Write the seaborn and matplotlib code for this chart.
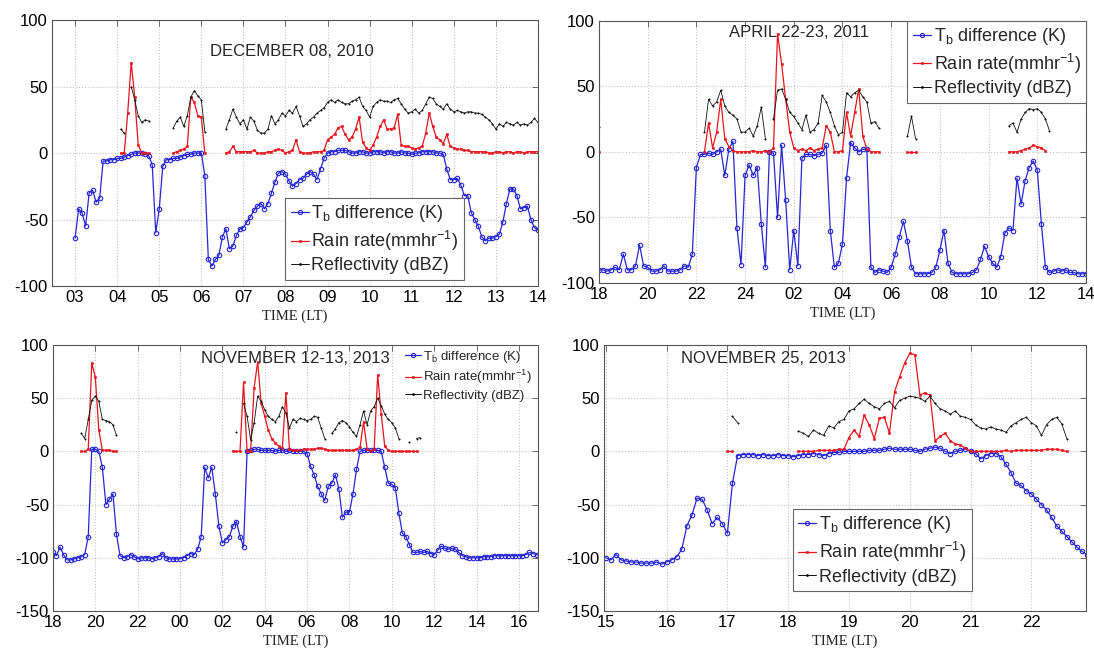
import numpy as np
import pandas as pd
import seaborn as sns
import matplotlib.pyplot as plt
from matplotlib.lines import Line2D

nan = np.nan

# ---- DECEMBER 08, 2010 : 5-min samples from 03:00 LT ----
dec_start, dec_step = 3.0, 5 / 60
tb_dec = [
    -64, -42, -45, -55, -30, -28, -37, -34, -6, -6, -5, -5, -4,
    -4, -3, -2, -1, 0, 0, 0, -1, -2, -9, -60, -42,
    -10, -5, -5, -4, -4, -3, -2, -1, -1, 0, 0, 0,
    -17, -80, -85, -80, -77, -63, -57, -72, -70, -62, -57, -56,
    -52, -48, -43, -40, -38, -42, -38, -30, -22, -15, -14, -16,
    -21, -25, -23, -20, -19, -16, -14, -16, -20, -12, -4, 0,
    1, 1, 2, 2, 2, 1, 0, 0, 1, 1, 0, 0,
    1, 1, 1, 0, 1, 1, 0, 0, 1, 0, 0, -1,
    0, 0, 1, 1, 1, 1, 0, 0, -1, -12, -20, -20,
    -19, -24, -32, -32, -45, -50, -55, -63, -66, -64, -64, -63,
    -61, -52, -38, -27, -27, -32, -42, -41, -40, -50, -56, -58,
]
rain_dec = [nan] * 13 + [
    0, 0, 30, 68, 42, 6, 0, 0, 0, nan, nan, nan,
    nan, nan, nan, 0, 1, 2, 3, 5, 42, 38, 28, 27,
    0, nan, nan, nan, nan, nan, 0, 1, 5, 1, 1, 1,
    1, 1, 2, 0, 0, 0, 1, 1, 2, 3, 2, 0,
    1, 2, 10, 1, 0, 0, 0, 1, 1, 1, 2, 10,
    12, 14, 19, 20, 14, 10, 12, 18, 27, 8, 4, 2,
    6, 12, 20, 25, 18, 18, 19, 29, 6, 5, 5, 4,
    3, 4, 5, 15, 30, 20, 12, 10, 7, 14, 5, 4,
    3, 3, 2, 2, 1, 1, 1, 1, 1, 0, 0, 1,
    1, 0, 1, 1, 0, 1, 1, 0, 1, 1, 1, 1,
]
refl_dec = [nan] * 13 + [
    18, 15, nan, 50, 40, 28, 23, 25, 24, nan, nan, nan,
    nan, nan, nan, 19, 24, 27, 20, 28, 42, 47, 43, 40,
    16, nan, nan, nan, nan, nan, 18, 25, 33, 27, 22, 25,
    18, 27, 24, 17, 15, 15, 18, 28, 22, 25, 30, 28,
    32, 30, 35, 28, 20, 22, 25, 27, 30, 32, 34, 38,
    40, 38, 40, 38, 37, 37, 39, 40, 42, 35, 32, 27,
    35, 38, 40, 39, 39, 38, 40, 41, 37, 33, 30, 31,
    33, 30, 32, 37, 42, 41, 37, 35, 33, 37, 33, 31,
    32, 31, 30, 31, 31, 30, 30, 29, 27, 25, 22, 18,
    22, 20, 23, 22, 21, 23, 21, 22, 21, 23, 26, 23,
]

# ---- APRIL 22-23, 2011 : 10-min samples from 18:00 LT ----
apr_start, apr_step = 18.0, 10 / 60
tb_apr = [
    -90, -90, -91, -90, -88, -90, -78, -90, -90, -87, -71, -87,
    -88, -91, -91, -90, -87, -91, -91, -91, -90, -87, -88, -78,
    -12, -2, -2, -1, -2, 0, 2, -18, 2, 8, -58, -86,
    -18, -10, -18, -12, -55, -88, 0, -1, -50, 5, -37, -90,
    -60, -87, -5, -2, -2, -3, -2, -1, 5, -60, -88, -85,
    -70, -20, 7, 3, 0, 2, 2, -88, -92, -90, -91, -92,
    -88, -78, -65, -53, -68, -88, -93, -93, -93, -93, -92, -88,
    -75, -60, -85, -92, -93, -93, -93, -93, -92, -90, -82, -72,
    -80, -85, -88, -80, -62, -58, -60, -20, -40, -22, -12, -7,
    -14, -55, -88, -92, -91, -90, -91, -90, -92, -92, -93, -93,
    -93,
]
rain_apr = [0] + [nan] * 25 + [
    0, 22, 3, 15, 40, 10, 4, 1, 0, 0,
    0, 0, 1, 0, 0, 1, 0, 3, 90, 67, 40, 15,
    3, 1, 2, 1, 3, 1, 2, 3, 20, 15, 0, 0,
    1, 30, 12, 30, 48, 12, 2, 0, 0, 0, nan, nan,
    nan, nan, nan, nan, 0, 0, 0, nan, nan, nan, nan, nan,
] + [nan] * 12 + [
    nan, nan, nan, nan, nan, 0, 0, 0, 1, 2, 3, 5,
    4, 3, 1,
] + [nan] * 10
refl_apr = [19] + [nan] * 25 + [
    15, 40, 35, 38, 47, 35, 30, 28, 25, 15,
    15, 18, 12, 20, 34, 10, nan, 25, 47, 48, 40, 30,
    27, 22, 17, 28, 15, 17, 22, 43, 38, 30, 20, 13,
    15, 45, 42, 45, 47, 42, 38, 22, 23, 18, nan, nan,
    nan, nan, nan, nan, 12, 27, 10, nan, nan, nan, nan, nan,
] + [nan] * 12 + [
    nan, nan, nan, nan, nan, 20, 22, 15, 25, 30, 33, 32,
    33, 30, 25, 16,
] + [nan] * 9

# ---- NOVEMBER 12-13, 2013 : 10-min samples from 18:00 LT ----
n12_start, n12_step = 18.0, 10 / 60
tb_n12 = [
    -95, -98, -90, -97, -102, -102,
    -101, -100, -99, -97, -80, 2,
    2, 0, -15, -50, -45, -40,
    -78, -98, -100, -99, -97, -99,
    -101, -100, -100, -100, -101, -100,
    -99, -96, -100, -101, -101, -101,
    -101, -100, -98, -96, -97, -92,
    -80, -15, -25, -15, -40, -70,
    -86, -83, -80, -70, -66, -80,
    -90, 0, 1, 2, 2, 1,
    1, 1, 1, 0, 1, 1,
    0, 1, 0, 0, 0, 0,
    -2, -14, -22, -33, -40, -46,
    -33, -30, -22, -35, -62, -57,
    -57, -40, -17, 0, 1, 1,
    1, 1, 1, 0, -15, -30,
    -31, -34, -58, -77, -80, -88,
    -95, -95, -94, -95, -94, -96,
    -97, -93, -89, -91, -92, -91,
    -92, -95, -98, -99, -100, -100,
    -100, -100, -99, -99, -99, -98,
    -98, -98, -98, -98, -98, -98,
    -98, -98, -97, -95, -96, -97,
    -98,
]
rain_n12 = [nan] * 8 + [
    0, 0, 2, 83,
    70, 20, 1, 1, 1, 0,
    0, nan, nan, nan, nan, nan,
] + [nan] * 27 + [
    0, 0, 0,
    65, 0, 0, 60, 84, 45,
    33, 20, 12, 8, 5, 3,
    55, 2, 1, 1, 1, 2,
    2, 2, 2, 3, 3, 2,
    1, 1, 1, 1, 1, 1,
    1, 1, 2, 4, 28, 2,
    0, 2, 72, 35, 5, 1,
    0, 0, 0, 0, 0, 0,
    0, 0,
] + [nan] * 35
refl_n12 = [nan] * 8 + [
    17, 12, 30, 48,
    52, 47, 30, 29, 28, 25,
    15, nan, nan, nan, nan, nan,
] + [nan] * 28 + [
    18, nan,
    45, 33, 11, 27, 52, 47,
    39, 33, 30, 28, 33, 42,
    36, 22, 30, 28, 31, 30,
    29, 30, 33, 32, 22, 12,
    nan, 17, 21, 27, 29, 27,
    23, 18, 14, 25, 38, 25,
    38, 42, 50, 43, 35, 30,
    27, 22, 12, nan, nan, 9,
    nan, 12, 13,
] + [nan] * 34

# ---- NOVEMBER 25, 2013 : 5-min samples from 15:00 LT ----
n25_start, n25_step = 15.0, 5 / 60
tb_n25 = [
    -100, -102, -97, -102, -103, -104, -104, -105, -105, -105, -104, -106,
    -104, -102, -99, -92, -70, -60, -44, -45, -55, -68, -62, -68,
    -77, -30, -4, -3, -3, -3, -4, -3, -4, -4, -3, -4,
    -4, -5, -4, -3, -3, -2, -3, -4, -2, -1, -1, 0,
    0, 0, 0, 0, 1, 1, 1, 2, 3, 2, 2, 2,
    2, 1, 0, 2, 3, 4, 3, 0, -2, 0, 1, 2,
    0, -2, -7, -4, -2, -2, -5, -12, -20, -30, -32, -37,
    -40, -45, -50, -55, -62, -70, -75, -80, -85, -90, -94, -97,
]
rain_n25 = [nan] * 24 + [0, 0] + [nan] * 12 + [
    0, 0, 0, 0, 1, 1, 1, 1, 2, 2,
    13, 20, 14, 34, 25, 12, 31, 32, 17, 56, 70, 83,
    92, 91, 53, 55, 53, 10, 14, 17, 10, 7, 6, 3,
    0, 0, 0, 0, 0, 0, 0, 1, 0, 1, 1, 1,
    1, 1, 1, 2, 2, 2, 1, 0, nan, nan, nan, nan,
]
refl_n25 = [nan] * 25 + [33, 27] + [nan] * 11 + [
    19, 17, 14, 20, 17, 15, 24, 22, 28, 30,
    38, 40, 45, 49, 45, 42, 40, 45, 47, 41, 48, 50,
    52, 51, 50, 47, 52, 45, 40, 38, 35, 38, 33, 32,
    30, 25, 22, 21, 23, 21, 20, 18, 24, 27, 30, 32,
    27, 24, 15, 25, 30, 32, 26, 12, nan, nan, nan, nan,
]

BLUE = "#2626d4"
RED = "#e8141c"
BLACK = "#111111"
LABELS = [r"T$_{\mathrm{b}}$ difference (K)",
          r"Rain rate(mmhr$^{\mathrm{-1}}$)",
          "Reflectivity (dBZ)"]

sns.set_theme(style="white")
plt.rcParams.update({
    "font.family": ["Liberation Sans", "DejaVu Sans"],
    "axes.unicode_minus": False,
    "mathtext.fontset": "custom",
    "mathtext.rm": "Liberation Sans",
    "mathtext.it": "Liberation Sans:italic",
})


def draw_series(ax, start, step, values, color, marker, ms, lw, mfc, mew):
    t = start + step * np.arange(len(values))
    df = pd.DataFrame({"t": t, "v": np.asarray(values, dtype=float)})
    # break the line wherever the record has a gap
    df["seg"] = df["v"].isna().cumsum()
    df = df.dropna()
    sns.lineplot(data=df, x="t", y="v", units="seg", estimator=None,
                 sort=False, ax=ax, color=color, linewidth=lw,
                 marker=marker, markersize=ms, markerfacecolor=mfc,
                 markeredgecolor=color, markeredgewidth=mew, legend=False)


def style_axes(ax, xlim, xticks, xlabels, ylim, yticks):
    ax.set_xlim(xlim)
    ax.set_ylim(ylim)
    ax.set_xticks(xticks)
    ax.set_xticklabels(xlabels)
    ax.set_yticks(yticks)
    ax.set_axisbelow(True)
    ax.grid(True, color="#c4c4c4", linestyle=":", linewidth=0.8)
    ax.tick_params(direction="in", length=4, width=0.6, color="#555555",
                   top=True, right=True, labelsize=12, pad=3,
                   labelcolor="black")
    for s in ax.spines.values():
        s.set_color("#555555")
        s.set_linewidth(0.8)
    ax.set_xlabel("TIME (LT)", fontfamily="Liberation Serif",
                  fontsize=10.5, labelpad=3, color="#222222")
    ax.set_ylabel("")


def legend_handles():
    return [
        Line2D([], [], color=BLUE, lw=0.9, marker="o", markersize=3,
               markerfacecolor="none", markeredgewidth=0.8),
        Line2D([], [], color=RED, lw=0.9, marker="s", markersize=1.6,
               markeredgewidth=0.4),
        Line2D([], [], color=BLACK, lw=0.7, marker=".", markersize=2),
    ]


def draw_panel(ax, start, step, tb, rain, refl):
    draw_series(ax, start, step, tb, BLUE, "o", 3.2, 0.9, "none", 0.8)
    draw_series(ax, start, step, rain, RED, "s", 1.6, 0.9, RED, 0.4)
    draw_series(ax, start, step, refl, BLACK, ".", 2, 0.6, BLACK, 0.4)


fig = plt.figure(figsize=(10.94, 6.52), dpi=100)

ax_tl = fig.add_axes([0.0475, 0.5613, 0.4442, 0.4080])
ax_tr = fig.add_axes([0.5475, 0.5660, 0.4452, 0.4023])
ax_bl = fig.add_axes([0.0484, 0.0629, 0.4433, 0.4080])
ax_br = fig.add_axes([0.5521, 0.0629, 0.4406, 0.4080])

leg_kw = dict(handlelength=1.0, handletextpad=0.15, borderpad=0.3,
              labelspacing=0.25, fancybox=False, framealpha=1,
              edgecolor="#666666")

# top left
draw_panel(ax_tl, dec_start, dec_step, tb_dec, rain_dec, refl_dec)
style_axes(ax_tl, (2.45, 14.0), range(3, 15),
           [f"{h:02d}" for h in range(3, 15)], (-100, 100),
           [-100, -50, 0, 50, 100])
ax_tl.text(0.494, 0.881, "DECEMBER 08, 2010", transform=ax_tl.transAxes,
           ha="center", va="center", fontsize=12)
lg = ax_tl.legend(legend_handles(), LABELS, loc="lower left",
                  bbox_to_anchor=(0.48, 0.023), borderaxespad=0,
                  fontsize=13, **leg_kw)
lg.get_frame().set_linewidth(0.8)

# top right
draw_panel(ax_tr, apr_start, apr_step, tb_apr, rain_apr, refl_apr)
style_axes(ax_tr, (18, 38), range(18, 39, 2),
           ["18", "20", "22", "24", "02", "04", "06", "08", "10", "12", "14"],
           (-100, 100), [-100, -50, 0, 50, 100])
ax_tr.text(0.41, 0.953, "APRIL 22-23, 2011", transform=ax_tr.transAxes,
           ha="center", va="center", fontsize=12)
lg = ax_tr.legend(legend_handles(), LABELS, loc="upper right",
                  bbox_to_anchor=(1.0, 1.0), borderaxespad=0,
                  fontsize=13, **leg_kw)
lg.get_frame().set_linewidth(0.8)

# bottom left
draw_panel(ax_bl, n12_start, n12_step, tb_n12, rain_n12, refl_n12)
style_axes(ax_bl, (18, 40.9), range(18, 41, 2),
           [f"{h % 24:02d}" for h in range(18, 41, 2)],
           (-150, 100), [-150, -100, -50, 0, 50, 100])
ax_bl.text(0.50, 0.951, "NOVEMBER 12-13, 2013", transform=ax_bl.transAxes,
           ha="center", va="center", fontsize=12)
ax_bl.legend(legend_handles(), LABELS, loc="upper right",
             bbox_to_anchor=(0.995, 1.0), borderaxespad=0, fontsize=9.5,
             frameon=False, handlelength=1.2, handletextpad=0.15,
             borderpad=0.3, labelspacing=0.25)

# bottom right
draw_panel(ax_br, n25_start, n25_step, tb_n25, rain_n25, refl_n25)
style_axes(ax_br, (14.97, 22.9), range(15, 23),
           [str(h) for h in range(15, 23)], (-150, 100),
           [-150, -100, -50, 0, 50, 100])
ax_br.text(0.33, 0.948, "NOVEMBER 25, 2013", transform=ax_br.transAxes,
           ha="center", va="center", fontsize=12)
lg = ax_br.legend(legend_handles(), LABELS, loc="lower left",
                  bbox_to_anchor=(0.392, 0.075), borderaxespad=0,
                  fontsize=13, **leg_kw)
lg.get_frame().set_linewidth(0.8)

fig.savefig("out.png", dpi=100)
